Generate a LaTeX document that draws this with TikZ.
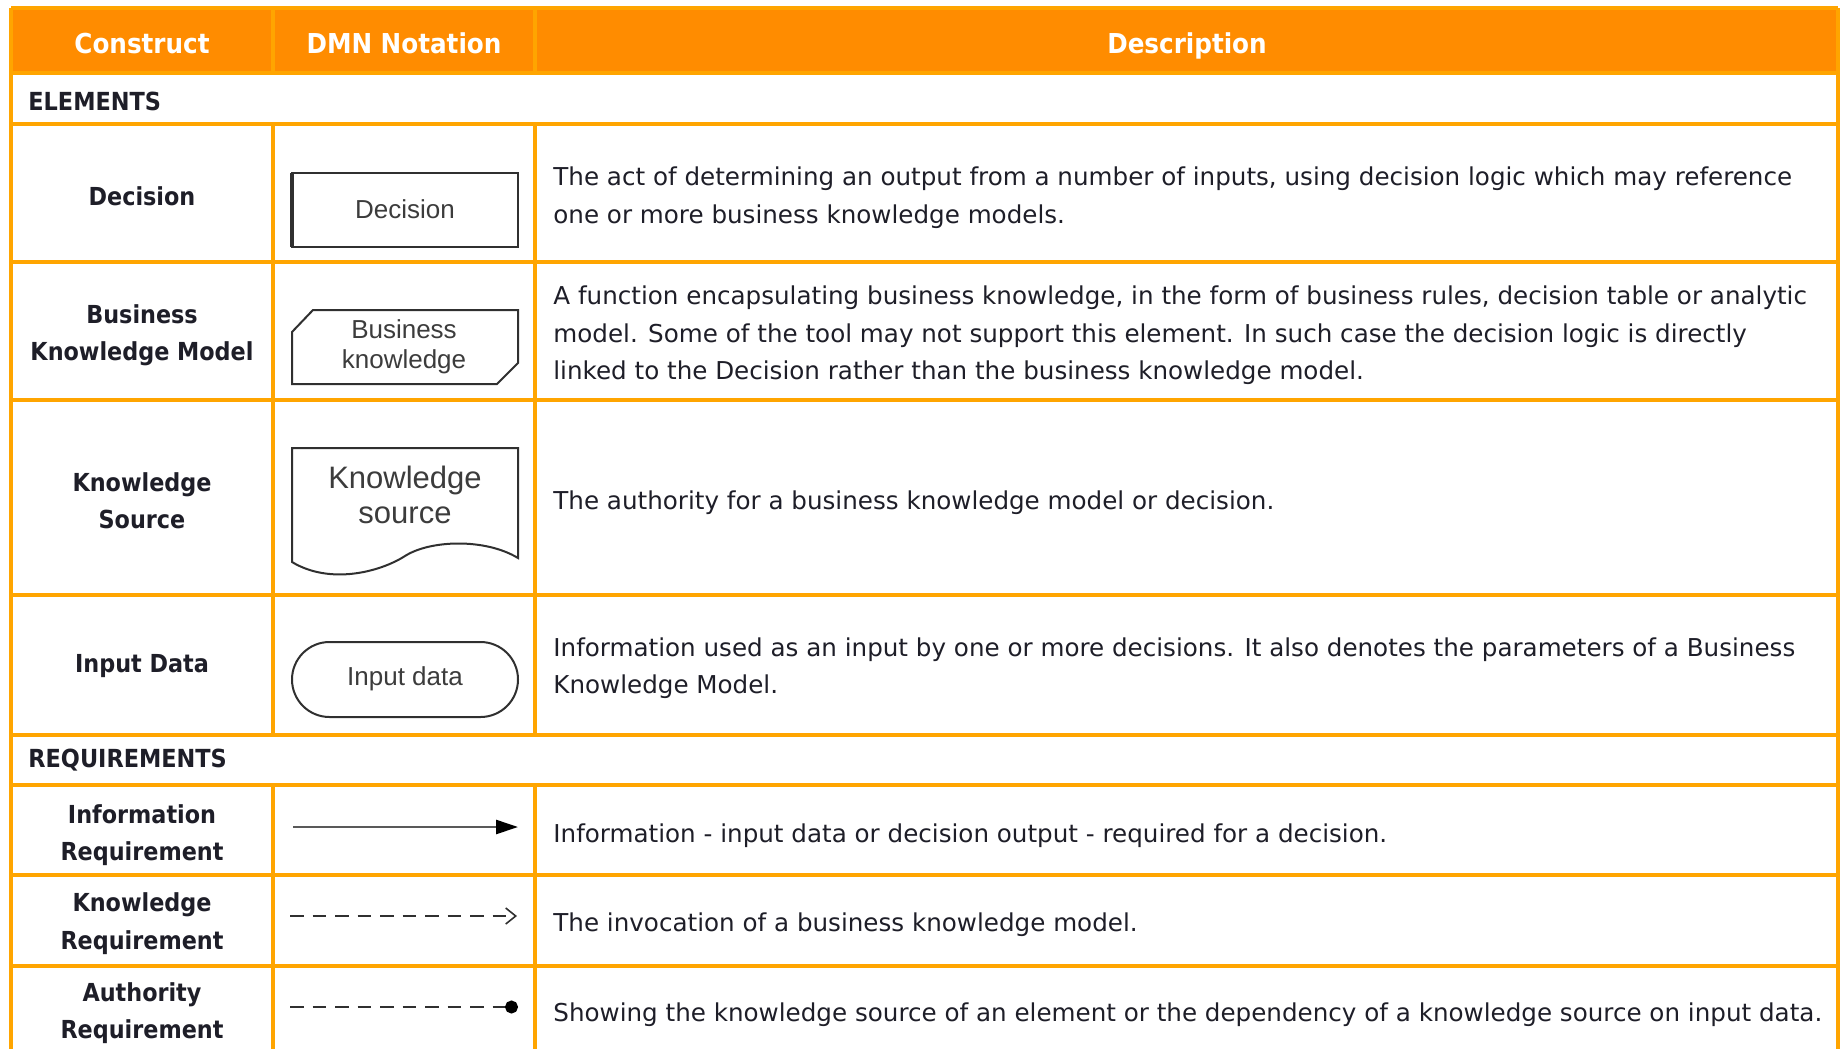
\documentclass[tikz,border=0pt]{standalone}
\usepackage{fontspec}
\setmainfont{DejaVu Sans Condensed}
\newfontfamily\descf{DejaVu Sans}
\newfontfamily\arialf{Liberation Sans}
\usetikzlibrary{arrows.meta}
\definecolor{hdr}{HTML}{FF8C00}
\definecolor{gridc}{HTML}{FFA500}
\definecolor{ink}{HTML}{1E1E28}
\definecolor{shp}{HTML}{303030}
\definecolor{shptext}{HTML}{3C3C3C}
\begin{document}
\begin{tikzpicture}[x=0.5pt,y=-0.5pt,
  gridline/.style={draw=gridc,line width=2pt},
  hdrtext/.style={anchor=base,text=white,inner sep=0pt,font=\bfseries\fontsize{13.7}{15}\selectfont},
  secttext/.style={anchor=west,text=ink,inner sep=0pt,font=\bfseries\fontsize{12.45}{15}\selectfont},
  cons/.style={align=center,text=ink,inner sep=0pt,font=\bfseries\fontsize{12.4}{18.75}\selectfont},
  desc/.style={anchor=west,align=left,text=ink,inner sep=0pt,font=\descf\fontsize{12.3}{18.75}\selectfont},
  shape line/.style={draw=shp,line width=1pt},
  shapetext/.style={text=shptext,align=center,inner sep=0pt,font=\arialf\fontsize{13}{15}\selectfont},
  reqline/.style={draw=shp,line width=1pt},
  reqdash/.style={reqline,dash pattern=on 6.75pt off 4.5pt}
]
\useasboundingbox (0,0) rectangle (1840,1049);
\fill[white] (0,0) rectangle (1840,1049);
% header
\fill[hdr] (11,8) rectangle (1838,73);
% grid
\draw[gridline] (11,8) -- (1838,8);
\draw[gridline] (11,8) -- (11,1049);
\draw[gridline] (1838,8) -- (1838,1049);
\foreach \yy in {73,124,262,400,595,735,785,875,966}
  \draw[gridline] (11,\yy) -- (1838,\yy);
\foreach \xx in {273,535}{
  \draw[gridline] (\xx,8) -- (\xx,73);
  \draw[gridline] (\xx,124) -- (\xx,735);
  \draw[gridline] (\xx,785) -- (\xx,1049);
}
% header texts
\node[hdrtext] (hc) at (142,53) {Construct};
\node[hdrtext] (hn) at (404,53) {DMN Notation};
\node[hdrtext] (hd) at (1187,53) {Description};
% section rows
\node[secttext] (sel) at (28,101) {ELEMENTS};
\node[secttext] (sreq) at (28,760.5) {REQUIREMENTS};
% construct column
\node[cons] (c1) at (142,196) {Decision};
\node[cons] (c2) at (142,335.5) {Business\\Knowledge Model};
\node[cons] (c3) at (142,500.5) {Knowledge\\Source};
\node[cons] (c4) at (142,666) {Input Data};
\node[cons] (c5) at (142,835) {Information\\Requirement};
\node[cons] (c6) at (142,923.5) {Knowledge\\Requirement};
\node[cons] (c7) at (142,1013) {Authority\\Requirement};
% descriptions
\node[desc] (d1) at (553,197.5) {The act of determining an output from a number of inputs, using decision logic which may reference\\one or more business knowledge models.};
\node[desc] (d2) at (553,335.5) {A function encapsulating business knowledge, in the form of business rules, decision table or analytic\\model. Some of the tool may not support this element. In such case the decision logic is directly\\linked to the Decision rather than the business knowledge model.};
\node[desc] (d3) at (553,502.5) {The authority for a business knowledge model or decision.};
\node[desc] (d4) at (553,668) {Information used as an input by one or more decisions. It also denotes the parameters of a Business\\Knowledge Model.};
\node[desc] (d5) at (553,835.5) {Information - input data or decision output - required for a decision.};
\node[desc] (d6) at (553,924.5) {The invocation of a business knowledge model.};
\node[desc] (d7) at (553,1014.5) {Showing the knowledge source of an element or the dependency of a knowledge source on input data.};
% notation: decision
\draw[shape line] (292,173) rectangle (518,247);
\draw[draw=shp,line width=1.6pt] (292,173) -- (292,247);
\node[shapetext] (n1) at (405,209) {Decision};
% notation: business knowledge
\draw[shape line] (313,310) -- (518,310) -- (518,363) -- (497,384) -- (292,384) -- (292,332) -- cycle;
\node[shapetext] (n2) at (404,347) {Business\\knowledge};
% notation: knowledge source
\draw[shape line] (292,562) -- (292,448) -- (518,448) -- (518,558)
  .. controls (485,538) and (430,540) .. (405,556)
  .. controls (380,572) and (330,585) .. (292,562) -- cycle;
\node[shapetext,font=\arialf\fontsize{15.5}{17.5}\selectfont] (n3) at (405,495) {Knowledge\\source};
% notation: input data
\draw[shape line,rounded corners=18.75pt] (292,642) rectangle (518,717);
\node[shapetext] (n4) at (405,679) {Input data};
% requirement connectors
\coordinate (ia) at (293,827);
\coordinate (ib) at (518,827);
\draw[reqline,line width=1.3pt,draw=black!65,-{Triangle[length=11pt,width=7pt,color=black]}] (ia) -- (ib);
\coordinate (ka) at (290,916);
\coordinate (kb) at (517,916);
\draw[reqdash,-{Straight Barb[length=5pt,width=8pt,line width=0.8pt]}] (ka) -- (kb);
\coordinate (aa) at (290,1007);
\coordinate (ab) at (518,1007);
\draw[reqdash,-{Circle[length=6.5pt,color=black]}] (aa) -- (ab);
\end{tikzpicture}
\end{document}
